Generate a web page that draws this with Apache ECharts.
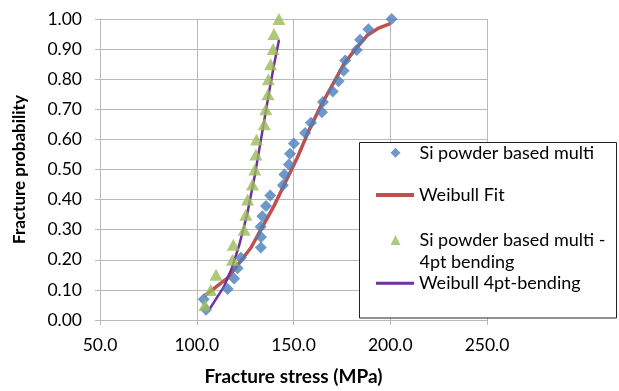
<!DOCTYPE html>
<html><head><meta charset="utf-8">
<script src="https://cdn.jsdelivr.net/npm/echarts@6/dist/echarts.min.js"></script>
<style>html,body{margin:0;padding:0;background:#fff}#c{width:619px;height:391px}</style>
</head><body><div id="c"></div>
<script>
// Si powder based multi (measured points)
const siStress = [104.8,103.6,116.0,119.3,121.1,122.8,133.1,133.2,133.0,133.9,135.8,138.0,144.5,145.3,147.6,148.2,150.2,156.0,159.0,164.7,165.2,170.3,173.3,175.9,176.7,182.7,184.4,188.7,200.7];
const siProb   = [0.034,0.069,0.103,0.138,0.172,0.207,0.241,0.276,0.310,0.345,0.379,0.414,0.448,0.483,0.517,0.552,0.586,0.621,0.655,0.690,0.724,0.759,0.793,0.828,0.862,0.897,0.931,0.966,1.000];
// Weibull Fit
const fitStress = [104,110,116,122,128,134,140,146,152,158,164,170,176,182,188,194,200];
const fitProb   = [0.08,0.11,0.14,0.19,0.24,0.31,0.38,0.46,0.54,0.63,0.71,0.78,0.85,0.90,0.945,0.97,0.985];
// Si powder based multi - 4pt bending
const bendStress = [104.2,107.2,110.0,118.5,118.9,124.5,125.4,126.3,128.8,130.0,130.6,130.9,134.9,135.7,136.8,137.0,138.2,139.5,139.9,142.5];
const bendProb   = [0.05,0.10,0.15,0.20,0.25,0.30,0.35,0.40,0.45,0.50,0.55,0.60,0.65,0.70,0.75,0.80,0.85,0.90,0.95,1.00];
// Weibull 4pt-bending
const fit4Stress = [106,110,114,118,122,126,130,134,138,140,142.5];
const fit4Prob   = [0.03,0.07,0.11,0.17,0.25,0.35,0.48,0.63,0.78,0.85,0.93];

const xTicks = {min:50, max:250, interval:50};
const yTicks = {min:0, max:1, interval:0.1};

const names = ['Si powder based multi','Weibull Fit','Si powder based multi - 4pt bending','Weibull 4pt-bending'];
const FONT = 'Lato';
const zip = (a,b)=>a.map((v,i)=>[v,b[i]]);
const gridColor = '#b9b9b9';
const RED = '#C0504D', PURPLE = '#7030A0', BLUE = '#4A7EBB', GREEN = '#9BBB59';
const LFS = 18;

const legendBase = {orient:'vertical', left:376, itemWidth:38, itemHeight:10, padding:0, selectedMode:false, z:11,
  symbolKeepAspect:true,
  textStyle:{fontFamily:FONT, fontSize:LFS, color:'#000', lineHeight:20}};

const chart = echarts.init(document.getElementById('c'), null, {renderer:'canvas'});
chart.setOption({
  animation:false,
  backgroundColor:'#fff',
  grid:{left:100, right:132, top:19, bottom:69, containLabel:false},
  xAxis:{type:'value', min:xTicks.min, max:xTicks.max, interval:xTicks.interval,
    name:'Fracture stress (MPa)', nameLocation:'middle', nameGap:47,
    nameTextStyle:{fontFamily:FONT, fontSize:19, fontWeight:'bold', color:'#000'},
    axisLine:{show:true, lineStyle:{color:gridColor, width:1}},
    axisTick:{show:true, length:5, lineStyle:{color:gridColor}},
    splitLine:{show:true, lineStyle:{color:gridColor, width:1}},
    axisLabel:{margin:16, fontFamily:FONT, fontSize:17.5, color:'#000', formatter:v=>v.toFixed(1)}},
  yAxis:{type:'value', min:yTicks.min, max:yTicks.max, interval:yTicks.interval,
    name:'Fracture probability', nameLocation:'middle', nameGap:72,
    nameTextStyle:{fontFamily:FONT, fontSize:17, fontWeight:'bold', color:'#000'},
    axisLine:{show:true, lineStyle:{color:gridColor, width:1}},
    axisTick:{show:true, length:5, lineStyle:{color:gridColor}},
    splitLine:{show:true, lineStyle:{color:gridColor, width:1}},
    axisLabel:{margin:18, fontFamily:FONT, fontSize:17.5, color:'#000', formatter:v=>v.toFixed(2)}},
  legend:[
    Object.assign({}, legendBase, {top:142.7, left:390.5, data:[{name:names[0], icon:'path://M0,-1L1,0L0,1L-1,0Z', itemStyle:{color:BLUE}}]}),
    Object.assign({}, legendBase, {top:185, itemHeight:4, data:[{name:names[1], icon:'rect', itemStyle:{color:RED}}]}),
    Object.assign({}, legendBase, {top:207, left:390.5, data:[{name:names[2], icon:'path://M0,-1L1,1L-1,1Z', itemStyle:{color:GREEN}}],
      formatter:()=>'{s| }\n{a|Si powder based multi -}\n{a|4pt bending}',
      textStyle:Object.assign({}, legendBase.textStyle, {lineHeight:22,
        rich:{s:{lineHeight:22, fontSize:LFS, fontFamily:FONT}, a:{lineHeight:22, fontSize:LFS, fontFamily:FONT, color:'#000'}}})}),
    Object.assign({}, legendBase, {top:273.3, itemHeight:3, data:[{name:names[3], icon:'rect', itemStyle:{color:PURPLE}}]})
  ],
  graphic:[{type:'rect', z:10, shape:{x:359.5, y:142.5, width:257, height:175.5},
    style:{fill:'#fff', stroke:'#222', lineWidth:1}}],
  series:[
    {name:names[1], type:'line', z:2, data:zip(fitStress, fitProb), symbol:'none', showSymbol:false,
      lineStyle:{color:RED, width:3.5}, itemStyle:{color:RED}},
    {name:names[3], type:'line', z:3, data:zip(fit4Stress, fit4Prob), symbol:'none', showSymbol:false,
      lineStyle:{color:PURPLE, width:2.5}, itemStyle:{color:PURPLE}},
    {name:names[0], type:'scatter', z:4, data:zip(siStress, siProb), symbol:'diamond', symbolSize:12,
      itemStyle:{color:BLUE}},
    {name:names[2], type:'scatter', z:5, data:zip(bendStress, bendProb), symbol:'triangle', symbolSize:[13,12],
      itemStyle:{color:GREEN}}
  ]
});
</script></body></html>
